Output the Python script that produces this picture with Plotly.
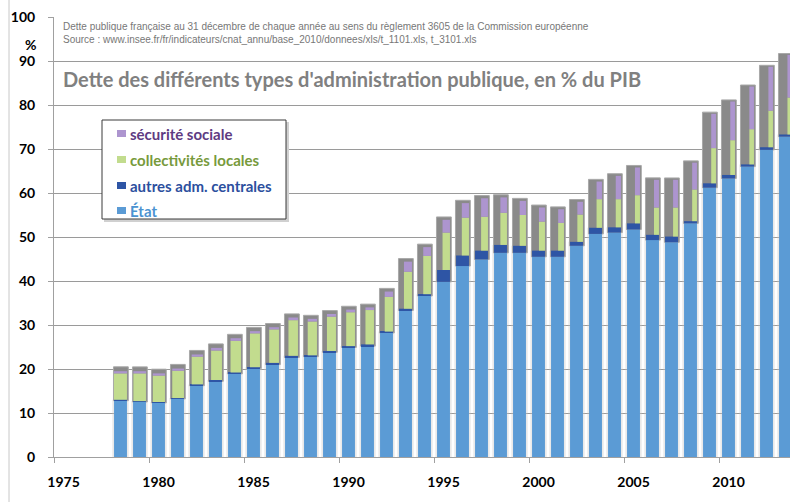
import numpy as np
import plotly.graph_objects as go

years = list(range(1978, 2014))
etat = [12.8, 12.5, 12.3, 13.2, 16.2, 17.2, 18.9, 20.1, 21.0, 22.6, 22.8, 23.8,
        24.9, 25.2, 28.2, 33.3, 36.6, 39.8, 43.4, 44.9, 46.4, 46.4, 45.5, 45.5,
        48.0, 50.7, 51.0, 51.7, 49.3, 48.8, 53.1, 61.2, 63.3, 66.0, 69.8, 72.8]
autres = [0.2, 0.2, 0.2, 0.2, 0.3, 0.3, 0.3, 0.3, 0.4, 0.4, 0.3, 0.3,
          0.3, 0.4, 0.3, 0.4, 0.4, 2.7, 2.4, 2.0, 1.8, 1.6, 1.4, 1.4,
          0.9, 1.4, 1.2, 1.4, 1.2, 1.3, 0.5, 1.0, 0.8, 0.5, 0.6, 0.5]
collectivites = [6.0, 6.3, 6.0, 6.2, 6.3, 6.7, 7.2, 7.7, 7.6, 8.1, 7.7, 7.8,
                 7.7, 7.8, 7.9, 8.4, 8.7, 8.5, 8.6, 7.7, 7.3, 7.0, 6.6, 6.3,
                 6.2, 6.5, 6.4, 6.4, 6.2, 6.6, 7.2, 8.0, 7.9, 8.0, 8.3, 8.4]
securite = [0.5, 0.5, 0.5, 0.5, 0.5, 0.6, 0.6, 0.5, 0.5, 0.6, 0.6, 0.6,
            0.6, 0.6, 1.2, 2.3, 2.0, 2.9, 3.3, 4.2, 3.5, 3.2, 3.2, 3.1,
            2.9, 4.0, 5.3, 6.3, 6.3, 6.3, 6.1, 7.8, 8.8, 9.7, 10.0, 9.7]
xtick_years = [1975, 1980, 1985, 1990, 1995, 2000, 2005, 2010]
ytick_vals = list(range(0, 101, 10))

# ---- derived stacking ----
e = np.array(etat)
a = np.array(autres)
c = np.array(collectivites)
s = np.array(securite)
base_c = e + a
base_s = base_c + c
total = base_s + s
yr = np.array(years, dtype=float)

# style: widths (years units; 19 px per year)
W = 0.68
upper_w = np.interp(yr, [1978, 1985, 1993, 2000, 2005, 2013],
                    [13, 10, 8, 6, 5, 4.5]) / 19.0
upper_off = W / 2 - upper_w
pad = np.interp(yr, [1978, 2013], [1.0, 0.3])

L, B, PW, PH = 54, 45, 736, 440
def px(p):
    return (p - L) / PW
def py(p):
    return (457 - p) / PH

fig = go.Figure()
n = len(years)
# glow
fig.add_trace(go.Bar(x=years, y=list(base_c), base=[0]*n, width=[0.86]*n, offset=[-0.43]*n,
                     marker=dict(color="rgba(200,200,200,0.4)", line=dict(width=0)),
                     hoverinfo="skip", showlegend=False))
# gray shadow
fig.add_trace(go.Bar(x=years, y=list(total + pad - e), base=list(e), width=[0.78]*n,
                     offset=[-0.37]*n,
                     marker=dict(color="#8a8a8a", line=dict(width=1, color="#a8a8a8")),
                     hoverinfo="skip", showlegend=False))
fig.add_trace(go.Bar(x=years, y=etat, base=[0]*n, width=[W]*n, offset=[-W/2]*n,
                     name="État", marker=dict(color="#5b9bd5", line=dict(width=0))))
fig.add_trace(go.Bar(x=years, y=autres, base=list(e), width=[W]*n, offset=[-W/2]*n,
                     name="autres adm. centrales", marker=dict(color="#2e55a5", line=dict(width=0))))
fig.add_trace(go.Bar(x=years, y=collectivites, base=list(base_c), width=list(upper_w),
                     offset=list(upper_off), name="collectivités locales",
                     marker=dict(color="#c2dc8e", line=dict(width=0))))
fig.add_trace(go.Bar(x=years, y=securite, base=list(base_s), width=list(upper_w),
                     offset=list(upper_off), name="sécurité sociale",
                     marker=dict(color="#ad95cf", line=dict(width=0))))

tickfont = dict(family="Lato", size=14, color="#000000", weight="bold")
fig.update_layout(
    width=790, height=502,
    margin=dict(l=L, r=0, t=17, b=B, autoexpand=False),
    barmode="overlay",
    plot_bgcolor="white", paper_bgcolor="white",
    showlegend=False,
    xaxis=dict(range=[1974.5, 1974.5 + PW / 19.0], tickvals=xtick_years,
               ticktext=[str(v) for v in xtick_years], ticks="", showgrid=False,
               showline=True, linecolor="#a0a0a0", linewidth=1, tickfont=tickfont,
               ticklabelstandoff=12, zeroline=False, automargin=False,
               minor=dict(tickvals=[v + 4.5 for v in xtick_years] + [v - 0.5 for v in xtick_years],
                          ticks="outside", ticklen=5, tickcolor="#a0a0a0", showgrid=False)),
    yaxis=dict(range=[0, 100], tickvals=ytick_vals,
               ticktext=[str(v) for v in ytick_vals], ticks="outside", ticklen=5,
               tickcolor="#a0a0a0", showgrid=True, gridcolor="#9a9a9a", gridwidth=1.3,
               showline=True, linecolor="#a0a0a0", linewidth=1, tickfont=tickfont,
               ticklabelstandoff=10, zeroline=False, automargin=False),
    font=dict(family="Lato"),
)

ann = []
ann.append(dict(x=px(30), y=py(45), xref="paper", yref="paper", text="%", showarrow=False,
                font=dict(family="Lato", size=14, color="#000", weight="bold"),
                xanchor="center", yanchor="middle"))
ann.append(dict(x=px(61), y=py(26), xref="paper", yref="paper", showarrow=False,
                text="Dette publique française au 31 décembre de chaque année au sens du règlement 3605 de la Commission européenne",
                font=dict(family="Liberation Sans", size=10, color="#777777"),
                xanchor="left", yanchor="middle"))
ann.append(dict(x=px(61), y=py(39), xref="paper", yref="paper", showarrow=False,
                text="Source : www.insee.fr/fr/indicateurs/cnat_annu/base_2010/donnees/xls/t_1101.xls, t_3101.xls",
                font=dict(family="Liberation Sans", size=10, color="#777777"),
                xanchor="left", yanchor="middle"))
ann.append(dict(x=px(61), y=py(79), xref="paper", yref="paper", showarrow=False,
                text="Dette des différents types d'administration publique, en % du PIB",
                font=dict(family="Lato", size=20, color="#808080", weight="bold"),
                xanchor="left", yanchor="middle"))

shapes = []
# figure left border line
shapes.append(dict(type="line", xref="paper", yref="paper", x0=px(9), x1=px(9),
                   y0=py(0), y1=py(502), line=dict(color="#c8c8c8", width=1), layer="above"))
# legend box with shadow
shapes.append(dict(type="rect", xref="paper", yref="paper", x0=px(104), x1=px(289),
                   y0=py(122), y1=py(222), fillcolor="#d0d0d0", line=dict(width=0), layer="above"))
shapes.append(dict(type="rect", xref="paper", yref="paper", x0=px(102), x1=px(286),
                   y0=py(120), y1=py(219), fillcolor="white", line=dict(width=1, color="#3a3a3a"),
                   layer="above"))
legend_items = [("sécurité sociale", "#ad95cf", "#5e3b82", 134),
                ("collectivités locales", "#c2dc8e", "#779a3c", 160),
                ("autres adm. centrales", "#2e55a5", "#2c4f9e", 186),
                ("État", "#5b9bd5", "#4b93d1", 211)]
for label, sq, tc, yc in legend_items:
    shapes.append(dict(type="rect", xref="paper", yref="paper", x0=px(117), x1=px(126),
                       y0=py(yc + 3), y1=py(yc - 4), fillcolor=sq, line=dict(width=0), layer="above"))
    ann.append(dict(x=px(128), y=py(yc), xref="paper", yref="paper", text=label, showarrow=False,
                    font=dict(family="Lato", size=15, color=tc, weight="bold"),
                    xanchor="left", yanchor="middle"))

fig.update_layout(annotations=ann, shapes=shapes)
fig.write_html("out.html", config={"displayModeBar": False},
               post_script="document.body.style.margin='0';document.body.style.padding='0';")
